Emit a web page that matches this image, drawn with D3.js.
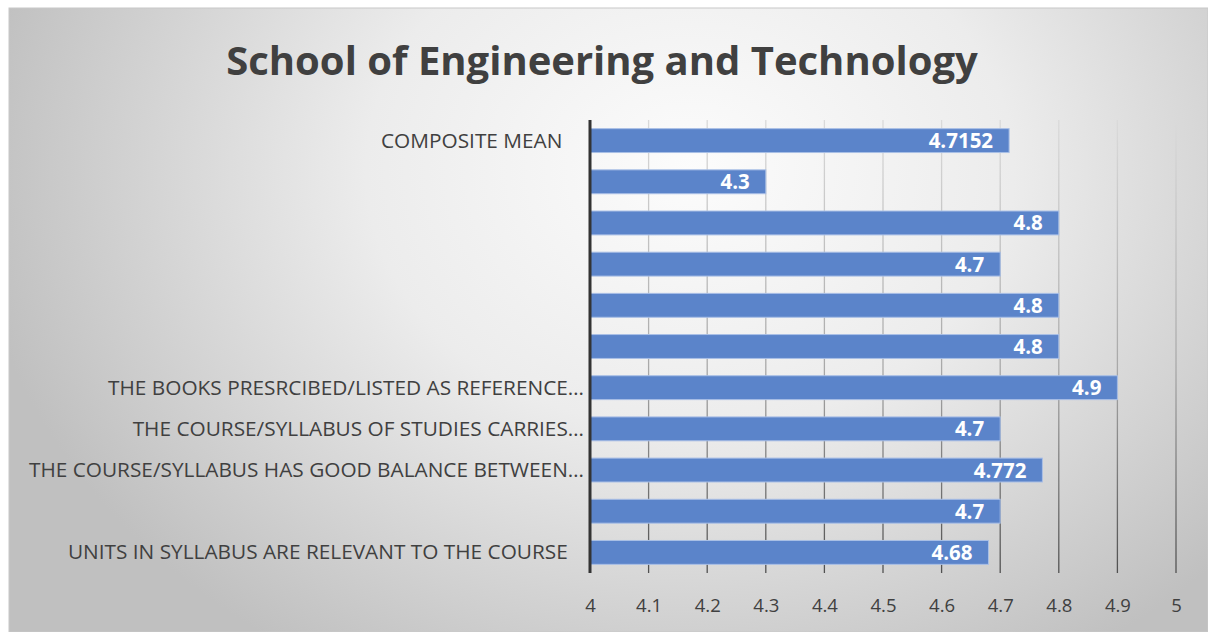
<!DOCTYPE html>
<html>
<head>
<meta charset="utf-8">
<script src="https://cdn.jsdelivr.net/npm/d3@7"></script>
<style>
  body { margin: 0; background: #fff; }
  svg { display: block; }
  .cat { white-space: pre; }
</style>
</head>
<body>
<svg></svg>
<script>
const width = 1208;
const height = 632;

// top to bottom, as drawn
const categories = [
  'COMPOSITE MEAN    ',
  '', '', '', '', '',
  'THE BOOKS PRESRCIBED/LISTED AS REFERENCE…',
  'THE COURSE/SYLLABUS OF STUDIES CARRIES…',
  'THE COURSE/SYLLABUS HAS GOOD BALANCE BETWEEN…',
  '',
  'UNITS IN SYLLABUS ARE RELEVANT TO THE COURSE   '
];
const values = [4.7152, 4.3, 4.8, 4.7, 4.8, 4.8, 4.9, 4.7, 4.772, 4.7, 4.68];
const ticks = [4, 4.1, 4.2, 4.3, 4.4, 4.5, 4.6, 4.7, 4.8, 4.9, 5];

const margin = { top: 120, right: 32, bottom: 59, left: 590 };

const svg = d3.select('svg')
  .attr('width', width)
  .attr('height', height);

const defs = svg.append('defs');
const bg = defs.append('radialGradient')
  .attr('id', 'bg')
  .attr('gradientUnits', 'userSpaceOnUse')
  .attr('cx', 690).attr('cy', 170).attr('r', 720)
  .attr('gradientTransform', 'translate(690,170) scale(1,0.8) translate(-690,-170)');
bg.append('stop').attr('offset', '0%').attr('stop-color', '#fcfcfc');
bg.append('stop').attr('offset', '45%').attr('stop-color', '#ececec');
bg.append('stop').attr('offset', '100%').attr('stop-color', '#c0c0c0');

const gridGrad = defs.append('linearGradient')
  .attr('id', 'grid')
  .attr('gradientUnits', 'userSpaceOnUse')
  .attr('x1', 0).attr('y1', margin.top)
  .attr('x2', 0).attr('y2', height - margin.bottom);
gridGrad.append('stop').attr('offset', '0%').attr('stop-color', '#dadada');
gridGrad.append('stop').attr('offset', '55%').attr('stop-color', '#a8a8a8');
gridGrad.append('stop').attr('offset', '100%').attr('stop-color', '#505050');

svg.append('rect')
  .attr('x', 9).attr('y', 8)
  .attr('width', width - 9).attr('height', height - 8)
  .attr('fill', 'url(#bg)')
  .attr('stroke', '#c8c8c8')
  .attr('stroke-width', 1);

svg.append('text')
  .attr('x', 602)
  .attr('y', 75)
  .attr('text-anchor', 'middle')
  .attr('font-family', 'Open Sans, sans-serif')
  .attr('font-weight', 'bold')
  .attr('font-size', 40)
  .attr('fill', '#404040')
  .text('School of Engineering and Technology');

const x = d3.scaleLinear()
  .domain([4, 5])
  .range([margin.left, width - margin.right]);

const y = d3.scaleBand()
  .domain(d3.range(values.length))
  .range([margin.top, height - margin.bottom])
  .paddingInner(0.42)
  .paddingOuter(0.21);

// gridlines
svg.append('g')
  .selectAll('line')
  .data(ticks.slice(1))
  .join('line')
  .attr('x1', (d) => x(d)).attr('x2', (d) => x(d))
  .attr('y1', margin.top).attr('y2', height - margin.bottom)
  .attr('stroke', 'url(#grid)')
  .attr('stroke-width', 1.3);

// bars
svg.append('g')
  .selectAll('rect')
  .data(values)
  .join('rect')
  .attr('x', x(4))
  .attr('y', (d, i) => y(i))
  .attr('width', (d) => x(d) - x(4))
  .attr('height', y.bandwidth())
  .attr('fill', '#5b84ca')
  .attr('stroke', '#a9bfe6')
  .attr('stroke-width', 1);

// value labels
svg.append('g')
  .selectAll('text')
  .data(values)
  .join('text')
  .attr('x', (d) => x(d) - 16)
  .attr('y', (d, i) => y(i) + y.bandwidth() / 2 + 7.5)
  .attr('text-anchor', 'end')
  .attr('font-family', 'Open Sans, sans-serif')
  .attr('font-weight', 'bold')
  .attr('font-size', 20.5)
  .attr('fill', '#ffffff')
  .text((d) => d);

// category labels
svg.append('g')
  .selectAll('text')
  .data(categories)
  .join('text')
  .attr('class', 'cat')
  .attr('x', margin.left - 6)
  .attr('y', (d, i) => y(i) + y.bandwidth() / 2 + 7)
  .attr('text-anchor', 'end')
  .attr('font-family', 'Open Sans, sans-serif')
  .attr('font-size', 20.8)
  .attr('fill', '#404040')
  .text((d) => d);

// axis line
svg.append('line')
  .attr('x1', x(4)).attr('x2', x(4))
  .attr('y1', margin.top).attr('y2', height - margin.bottom)
  .attr('stroke', '#333')
  .attr('stroke-width', 3);

// tick labels
const xAxis = svg.append('g')
  .attr('transform', `translate(0,${height - margin.bottom})`)
  .call(d3.axisBottom(x).tickValues(ticks).tickFormat(d3.format('')).tickSize(0).tickPadding(26));
xAxis.select('.domain').remove();
xAxis.selectAll('text')
  .attr('font-family', 'Open Sans, sans-serif')
  .attr('font-size', 18.5)
  .attr('fill', '#404040');
</script>
</body>
</html>
